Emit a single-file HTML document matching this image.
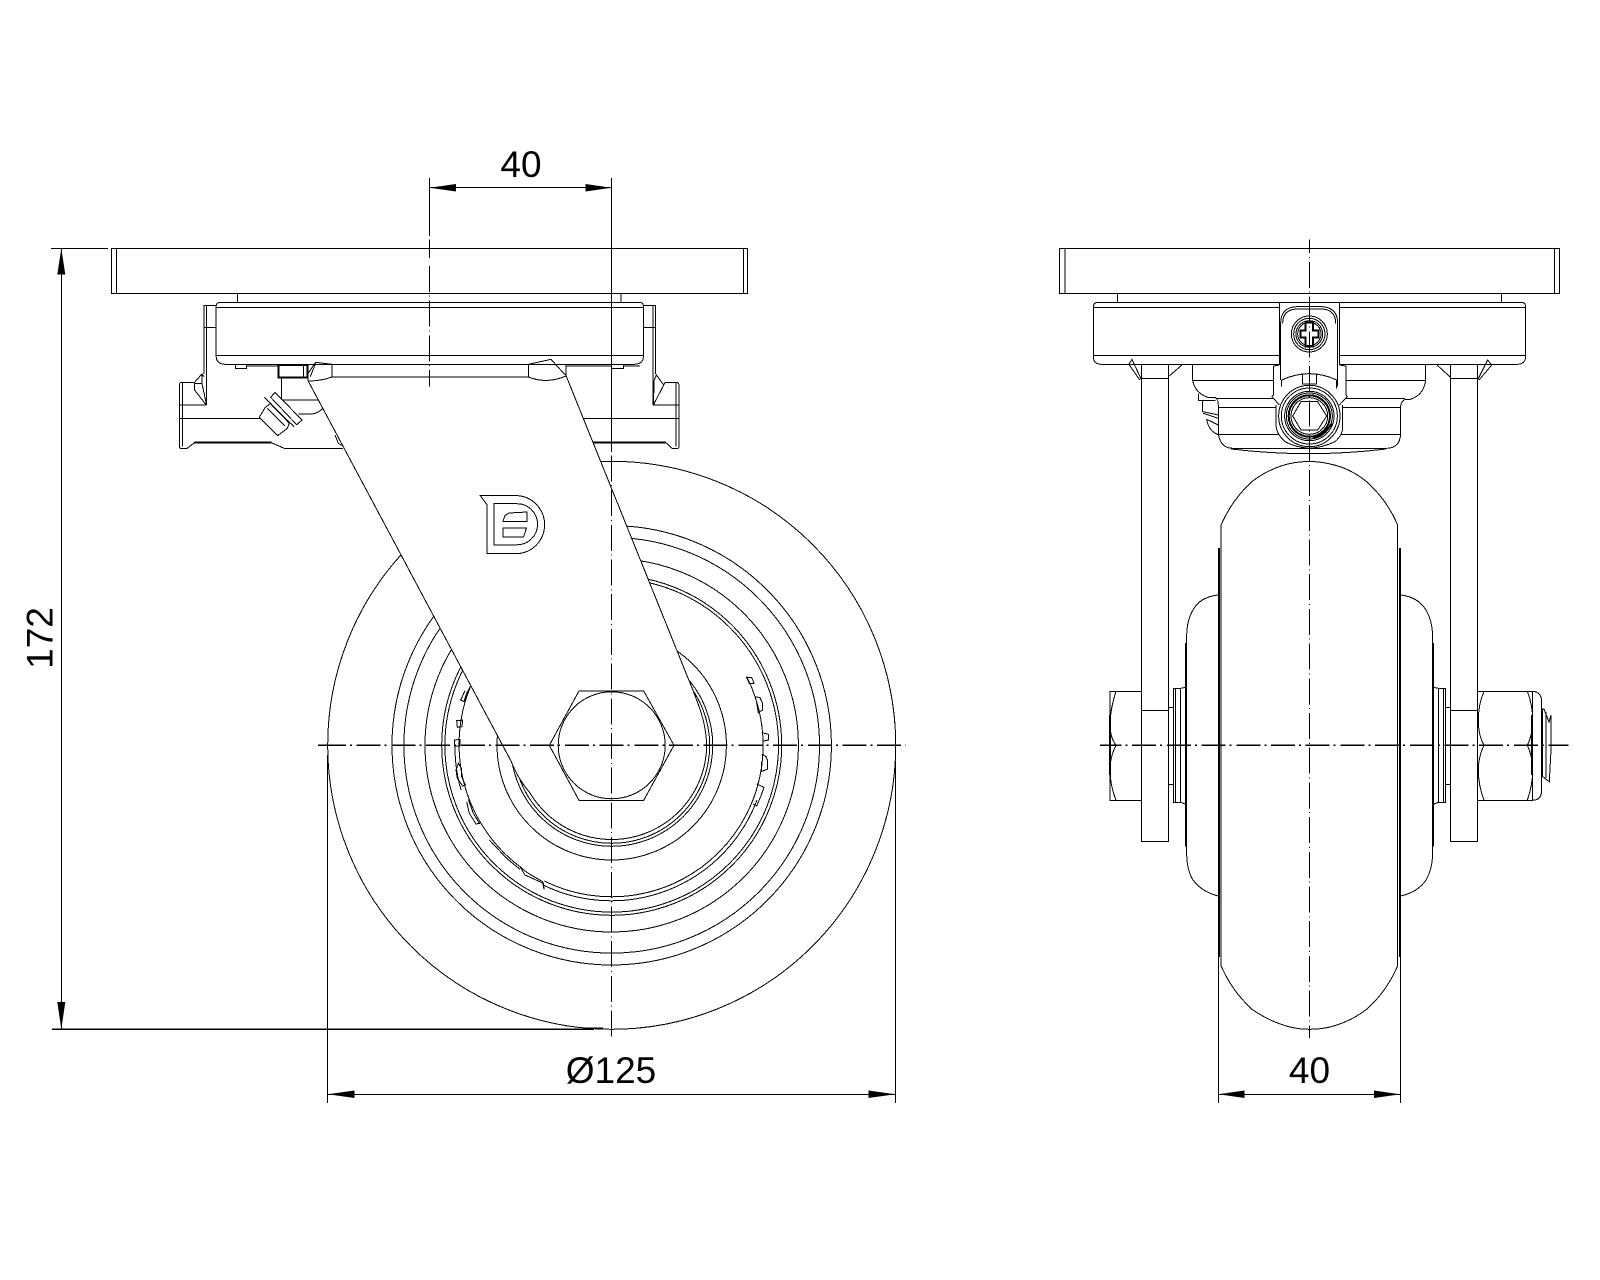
<!DOCTYPE html>
<html><head><meta charset="utf-8"><style>
html,body{margin:0;padding:0;background:#fff}
svg{display:block}
svg *{vector-effect:non-scaling-stroke}
.l{fill:none;stroke:#000;stroke-width:1;shape-rendering:crispEdges}
.w{fill:#fff;stroke:#000;stroke-width:1;shape-rendering:crispEdges}
.t{fill:none;stroke:#000;stroke-width:2;shape-rendering:crispEdges}
.f{fill:#fff;stroke:none;shape-rendering:crispEdges}
.v{fill:none;stroke:#000;stroke-width:1;stroke-dasharray:26 3.8 1 3.9;shape-rendering:crispEdges}
.h{fill:none;stroke:#000;stroke-width:1.3;stroke-dasharray:24 4 2 4.7;shape-rendering:crispEdges}
.a{fill:#000;stroke:none}
text{font-family:"Liberation Sans",sans-serif;font-size:37px;fill:#000}
</style></head><body>
<svg width="1600" height="1280" viewBox="0 0 1600 1280" xmlns="http://www.w3.org/2000/svg">
<rect width="1600" height="1280" fill="#fff"/>

<!-- LEFT VIEW: wheel circles -->
<g class="l">
<circle cx="611.7" cy="745.3" r="284"/>
<circle cx="611.7" cy="745.3" r="219.7"/>
<circle cx="611.7" cy="745.3" r="207.8"/>
<circle cx="611.7" cy="745.3" r="186.7"/>
<circle cx="611.7" cy="745.3" r="170"/>
<circle cx="611.7" cy="745.3" r="166.8"/>
<path d="M746.7,676.7 A151.5,151.5 0 0 1 544.5,881.1"/>
<path d="M757,800 A155.6,155.6 0 0 1 542.7,884.8"/>
<path d="M470.7,686 A153,153 0 0 0 521.7,868"/>
<path d="M455,745 A157,157 0 0 0 461,790"/>
<circle cx="611.7" cy="745.3" r="114.7"/>
<circle cx="611.7" cy="745.3" r="101"/>
<circle cx="611.7" cy="745.3" r="98"/>
</g>
<!-- teeth -->
<g class="l" transform="translate(440,600) scale(.33333)">
<path d="M920,233 L935,232 L942,250 L928,250 Z"/>
<path d="M945,290 L960,293 L968,310 L968,330 L955,338 L950,310"/>
<path d="M965,398 L985,403 L985,420 L968,424"/>
<path d="M965,462 L978,470 L983,482 L982,508 L965,514 L964,485"/>
<path d="M950,552 L972,562 L962,590 L950,618 L940,612"/>
<path d="M92,258 L80,280 L72,305 L62,300 L75,272"/>
<path d="M50,362 L68,360 L66,380 L52,382 Z"/>
<path d="M44,420 L60,418 L60,438 L44,438 Z"/>
<path d="M55,490 L48,510 L52,535 L68,558 L76,555 L65,530 L64,505 Z"/>
<path d="M85,598 L100,640 L118,670 L108,672 L88,640 L80,605"/>
<path d="M148,720 L200,775 L240,808"/>
<path d="M240,800 L255,825 L310,850 L312,868 L308,845 L265,820 L245,805"/>
</g>

<!-- LEFT VIEW: top assembly -->
<g class="l" transform="translate(100,230) scale(.43365,.33333)">
<rect x="26" y="55" width="1467" height="135"/>
<path d="M38,55V190 M1484,55V190 M317,190V217 M1202,190V217"/>
<path d="M280,217 H1243 Q1253,217 1253,227 V380 Q1253,403 1230,403 H291 Q268,403 268,380 V227 Q268,217 280,217 Z"/>
<path d="M268,232 H1253 M268,377 H1253"/>
<path d="M268,226 H240 V432 M246,226 V525 M240,293 H268 M1253,226 H1281 V432 M1275,226 V525 M1253,293 H1281"/>
<path d="M218,457 L235,432 L240,440 M218,480 L245,525 M235,432 V460 H218 V480 M235,460 L245,520"/>
<path d="M183,650 V465 Q183,457 190,457 H218 M190,457 V650 M183,525 H246 M183,565 H370"/>
<path d="M183,650 Q183,656 190,656 H200 L218,638 H395 L425,655 H560"/>
<path d="M1335,650 V465 Q1335,457 1328,457 H1303 M1328,457 V650 M1275,525 H1335 M1110,565 H1335"/>
<path d="M1335,650 Q1335,656 1328,656 H1320 L1305,638 H1135"/>
<path d="M1300,465 L1283,435 L1278,450 L1276,525 L1300,465 M1300,465 L1303,457"/>
<path d="M312,405 V415 H338 V405 M338,408 H412 M1075,408 H1180 M1180,405 V415 H1207 V405 M1207,408 H1245"/>
</g>
<g transform="translate(100,230) scale(.43365,.33333)">
<path class="t" d="M218,638 H395 M1135,638 H1305"/>
</g>
<!-- grease nipple -->
<g transform="translate(170,340) scale(.33333)">
<rect class="t" x="325" y="75" width="87" height="37"/>
<path class="l" d="M400,75 V112 M335,112 V180 H445 M385,222 H425 Q445,220 458,205"/>
<path class="w" d="M315,157 L396,240 L380,254 L302,172 Z"/>
<path class="w" d="M285,203 L268,232 L323,287 L352,265 L358,250 L302,190 Z"/>
<path class="l" d="M283,172 L372,260 M292,205 L345,258 M305,195 L358,248 M495,285 L505,310 L520,318"/>
</g>

<!-- FORK -->
<path class="f" d="M308.2,381 L332,377 H528.4 L546.7,381.7 L566.2,376 L688,678 C699,705 706,722 706.7,745 A95,95 0 0 1 530,793 Q518,779 511,761 Z"/>
<path class="l" d="M308.2,381 L511,761 Q518,779 530,793 A95,95 0 0 0 706.7,745 C706,722 699,705 688,678 L566.2,376"/>
<g class="l" transform="translate(100,230) scale(.43365,.33333)">
<path d="M535,403 V441 H988 V403 M480,453 L480,430 L497,397 L535,403 M480,453 Q510,453 535,441 M497,400 L485,440"/>
<path d="M988,403 L1040,388 L1075,438 M988,441 Q1030,463 1075,438 M1075,403 V440"/>
</g>
<!-- hex & axle -->
<g class="l">
<path d="M579,691 H643.7 L674,745.3 L643.7,800.3 H579 L549.3,745.3 Z"/>
<circle cx="611.7" cy="745.3" r="53.5"/>
<!-- logo -->
<path d="M480.3,495.7 H518 A29,29 0 0 1 544.6,524.5 A29,29 0 0 1 520,553.4 H487.2 V505 Z"/>
<path d="M493.9,503.7 H517 A20.5,20.5 0 0 1 517,544.8 H493.9 Z"/>
<path d="M503,521.3 L505,515.5 L509,513 L527,512 V521.3 Z"/>
<path d="M503,528.2 H526.4 L523.6,537.2 H503 Z"/>
</g>

<!-- RIGHT VIEW -->
<g class="l" transform="translate(1040,230) scale(.34435,.33333)">
<rect x="57" y="55" width="1451" height="135"/>
<path d="M72,55V190 M1494,55V190 M225,190V217 M1340,190V217"/>
<path d="M168,217 H1397 Q1410,217 1410,230 V380 Q1410,403 1385,403 H180 Q155,403 155,380 V230 Q155,217 168,217 Z"/>
<path d="M155,232 H1410 M155,376 H1410"/>
<path d="M295,445 H373 M1192,445 H1271"/>
<path d="M258,403 L267,388 L295,450 M258,403 L290,450 M373,440 L412,405 M1153,405 L1192,442 M1271,450 L1300,390 L1312,405 L1275,450"/>
<path d="M443,405 V450 Q450,490 490,503 H510 Q518,505 518,533 V613 Q525,655 560,655 H1005 Q1045,655 1047,613 V533 Q1047,515 1060,508 H1075 Q1115,495 1120,450 V405"/>
<path d="M443,452 H1120 M510,505 H1060 M518,533 H1047 M520,613 H1047 M555,657 Q781,685 1005,657"/>
<path d="M460,490 V512 H510 M472,512 V545 L518,555 M474,550 L518,565 M484,568 L518,585 M484,568 Q490,605 520,615"/>
</g>
<g class="l">
<path d="M1141.7,364 V841.3 H1168.3 V364 M1450.7,364 V841.3 H1477.3 V364"/>
<path d="M1141.7,710.3 H1168.3 M1450.7,710.3 H1477.3"/>
<!-- wheel -->
<path d="M1221,965.6 V525 Q1232,500 1251.7,481.7 Q1270,468 1290,463.5 Q1300,461.5 1309.3,461.5 Q1320,461.5 1330,464 Q1350,468 1367,482 Q1387,500 1397.7,525 V965.6 Q1387,991 1367,1009 Q1350,1022 1330,1027 Q1320,1029.3 1309.3,1029.3 Q1300,1029.3 1290,1027 Q1270,1022 1251.7,1009 Q1232,991 1221,965.6"/>
<path d="M1218.3,595 Q1200,597 1193,610 Q1187,620 1186.7,635 V855 Q1187,870 1193,880 Q1202,892 1218.3,896 M1400.7,595 Q1418,597 1426,610 Q1432,620 1432.7,635 V855 Q1432,870 1426,880 Q1418,892 1400.7,896"/>
<!-- collars -->
<path d="M1186,687.3 L1180.7,688.3 H1173.3 V802.3 H1180.7 L1186,804.3 M1175.7,688.3 V802.3 M1180.7,688.3 V802.3 M1168.3,707.7 H1173.3 M1168.3,784.3 H1173.3"/>
<path d="M1433.3,687.3 L1438.3,688.3 H1445.7 V802.3 H1438.3 L1433.3,804.3 M1443.3,688.3 V802.3 M1438.3,688.3 V802.3 M1445.7,707.7 H1450.7 M1445.7,784.3 H1450.7"/>
<!-- bolt head -->
<path d="M1141.7,691.3 H1110 V800.3 H1141.7"/>
<path d="M1116,691.3 Q1110,710 1110,725 Q1110,737 1116,745.3 Q1110,757 1110,770 Q1110,785 1116,800.3"/>
<!-- nut -->
<path d="M1477.3,691.3 H1532.7 Q1541.7,692 1541.7,702 V790 Q1541.7,800 1532.7,800.3 H1477.3"/>
<path d="M1484,691.3 Q1478.3,705 1478.3,720 Q1478.3,735 1484,745.3 Q1478.3,757 1478.3,770 Q1478.3,785 1484,800.3"/>
<path d="M1527.3,691.3 Q1532.7,705 1532.7,720 Q1532.7,735 1527.3,745.3 Q1532.7,757 1532.7,770 Q1532.7,785 1527.3,800.3"/>
<path d="M1532.7,691.3 V800.3"/>
<path d="M1541.7,709 H1544 L1549,722 L1551,715 V750 L1549.3,781.7 L1542.7,776.7 V709 M1546,712 V778"/>
</g>
<g class="t">
<path d="M1219,548 V957 M1400,548 V957 M1186,643 V846.7 M1433,643 V846.7 M1110,715 V775 M1532,715 V775"/>
</g>
<!-- center bracket -->
<g transform="translate(1190,290) scale(.33333)">
<path class="f" d="M268,38 H448 V225 H468 V315 L472,320 L458,345 V410 Q458,435 435,455 Q400,475 358,475 Q316,475 285,455 Q258,435 258,410 V345 L246,320 L250,315 V225 H268 Z"/>
<g class="l">
<path d="M268,38 H448 M268,38 V225 M448,38 V225"/>
<path d="M272,270 V100 Q272,52 320,50 H395 Q443,52 443,100 V290"/>
<path d="M278,100 Q278,58 322,57 H393 Q437,58 437,100"/>
<path d="M250,228 L268,225 M250,228 V315 L246,320 L268,345 M448,225 L468,228 V315 L472,320 L448,345"/>
<path d="M258,345 V410 Q262,435 285,455 Q316,472 358,475 Q400,472 435,455 Q458,435 458,410 V345"/>
<path d="M275,270 Q358,232 440,270 M275,270 V290 M440,270 V295"/>
<path d="M338,250 V282 H380 V250"/>
<circle cx="358" cy="378" r="92"/><circle cx="358" cy="378" r="84"/>
<circle cx="358" cy="378" r="74"/><circle cx="358" cy="378" r="69"/>
<circle cx="358" cy="378" r="55"/>
<path d="M333,335 H383 L410,378 L383,420 H333 L308,378 Z"/>
<circle cx="358" cy="132" r="54"/><circle cx="358" cy="132" r="47"/>
<circle cx="358" cy="132" r="40"/><circle cx="358" cy="132" r="35"/>
</g>
<circle class="t" cx="358" cy="378" r="62"/>
<path class="t" d="M347,97 H369 V122 H385 V142 H369 V170 H347 V142 H332 V122 H347 Z M370,445 Q410,430 425,400"/>
</g>

<!-- CENTERLINES -->
<path class="l" d="M611.7,178 V452 M429.6,178 V236 M429.6,239.3 V258"/>
<path class="v" d="M611.7,455.4 V1038"/>
<path class="v" d="M429.6,265.9 V386.7"/>
<path class="v" d="M1309.3,239.3 V1038" stroke-dashoffset="12.1"/>
<path class="h" d="M318,745.3 H322 M322,745.3 H905.5"/>
<path class="h" d="M1100,745.3 H1568.3" stroke-dashoffset="2.5"/>

<!-- DIMENSIONS -->
<g class="l">
<path d="M429.6,187.7 H611.7"/>
<path d="M51,248.3 H108 M52,1029.3 H594 M61.3,248.3 V1029.3"/>
<path d="M327.7,755 V1103 M895.4,758 V1103 M327.7,1094.3 H895.4"/>
<path d="M1218.3,957 V1103 M1400.3,957 V1103 M1218.3,1094.3 H1400.3"/>
</g>
<path class="t" d="M52,1029.3 H594 M585,1028 H603" style="stroke-width:1.2"/>
<polygon class="a" points="429.6,187.7 456,184 456,191.5"/>
<polygon class="a" points="611.7,187.7 585.5,184 585.5,191.5"/>
<polygon class="a" points="61.3,248.3 57.3,274.5 65.3,274.5"/>
<polygon class="a" points="61.3,1029.3 57.3,1002 65.3,1002"/>
<polygon class="a" points="327.7,1094.3 354.5,1090.5 354.5,1098"/>
<polygon class="a" points="895.4,1094.3 868.5,1090.5 868.5,1098"/>
<polygon class="a" points="1218.3,1094.3 1244.5,1090.5 1244.5,1098"/>
<polygon class="a" points="1400.3,1094.3 1374,1090.5 1374,1098"/>

<text x="521" y="177" text-anchor="middle">40</text>
<text x="611" y="1083" text-anchor="middle">Ø125</text>
<text x="1309.5" y="1083" text-anchor="middle">40</text>
<text x="0" y="0" text-anchor="middle" transform="translate(52.5,638) rotate(-90)">172</text>
</svg>
</body></html>
